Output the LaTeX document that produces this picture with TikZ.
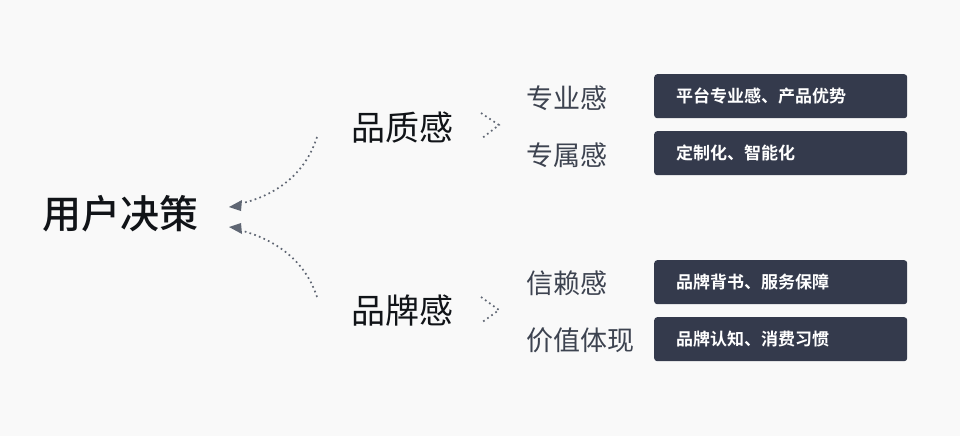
\documentclass[tikz,border=0pt]{standalone}
\usepackage{fontspec}
\setmainfont{Noto Sans CJK SC}
\newfontfamily\cjk{Noto Sans CJK SC}
\newfontfamily\cjkmed{Noto Sans CJK SC Medium}
\newfontfamily\cjkbold{Noto Sans CJK SC Bold}
\usetikzlibrary{arrows.meta}
\definecolor{bgc}{HTML}{F9F9F9}
\definecolor{boxc}{HTML}{343A4C}
\definecolor{subc}{HTML}{3D4350}
\definecolor{arrc}{HTML}{5F6673}
\definecolor{mainc}{HTML}{111418}
\tikzset{
  x=1pt, y=-1pt,
  title/.style={font=\cjkmed\fontsize{39}{42}\selectfont, text=mainc, inner sep=0pt},
  mid/.style={font=\cjk\fontsize{34}{37}\selectfont, text=mainc, inner sep=0pt, anchor=west},
  sub/.style={font=\cjk\fontsize{27}{30}\selectfont, text=subc, inner sep=0pt, anchor=west},
  tagbox/.style={fill=boxc, rounded corners=3pt, minimum width=253pt, minimum height=44pt, anchor=north west, text=white, font=\cjkbold\fontsize{17}{20}\selectfont, align=left, text width=209pt, inner xsep=22pt},
  dotline/.style={draw=arrc, line width=1.7pt, dash pattern=on 1.7pt off 3.3pt},
}
\begin{document}
\begin{tikzpicture}
\fill[bgc] (0,0) rectangle (960,436);
\useasboundingbox (0,0) rectangle (960,436);

\node[title] (user) at (120,214) {用户决策};
\node[mid] (quality) at (351,128) {品质感};
\node[mid] (brand) at (351,311) {品牌感};

\node[sub] (s1) at (526,98) {专业感};
\node[sub] (s2) at (526,155) {专属感};
\node[sub] (s3) at (526,283) {信赖感};
\node[sub] (s4) at (526,340) {价值体现};

\node[tagbox] (b1) at (654,74) {平台专业感、产品优势};
\node[tagbox] (b2) at (654,131) {定制化、智能化};
\node[tagbox] (b3) at (654,260) {品牌背书、服务保障};
\node[tagbox] (b4) at (654,317) {品牌认知、消费习惯};

\coordinate (qs) at (317,137);
\coordinate (bs) at (317,297);
\coordinate (qe) at (229,207);
\coordinate (be) at (229,227);

\draw[dotline] (qs) .. controls (305,175) and (275,195) .. (243,203);
\draw[dotline] (bs) .. controls (305,260) and (275,240) .. (243,231);
\fill[arrc] (qe) -- ++(13,-7) -- ++(-1,11) -- cycle;
\fill[arrc] (be) -- ++(13,7) -- ++(-1,-11) -- cycle;

\coordinate (c1a) at (481,113);
\coordinate (c1b) at (499,125);
\coordinate (c1c) at (481,139);
\coordinate (c2a) at (481,297);
\coordinate (c2b) at (499,310);
\coordinate (c2c) at (481,323);
\draw[dotline] (c1a) -- (c1b) -- (c1c);
\draw[dotline] (c2a) -- (c2b) -- (c2c);
\end{tikzpicture}
\end{document}
